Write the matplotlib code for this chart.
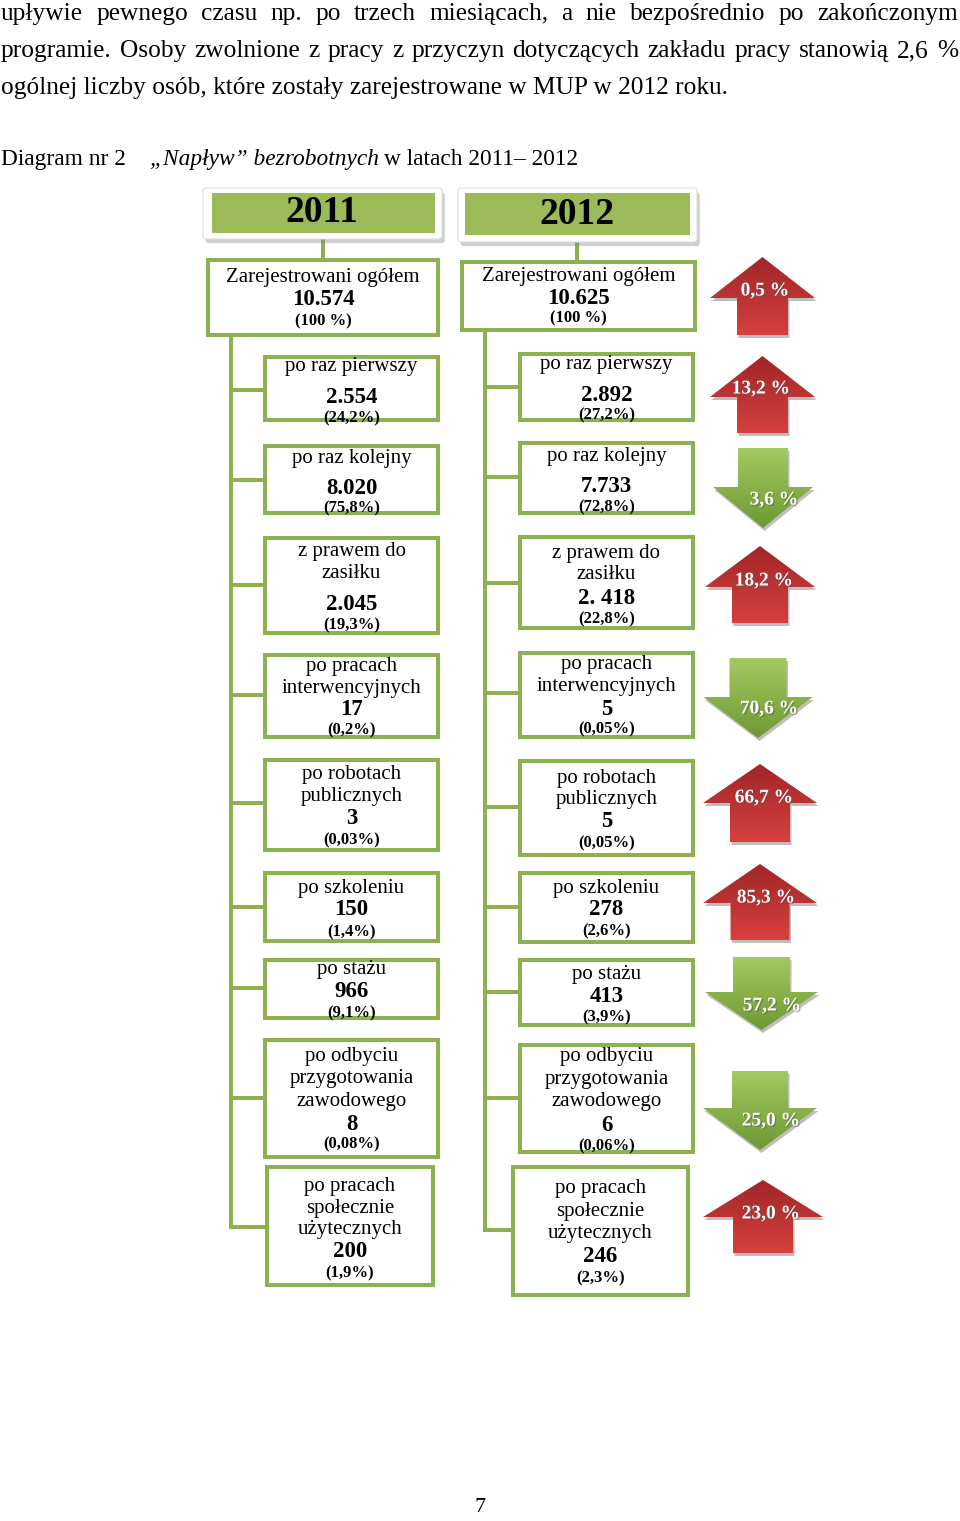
import matplotlib
matplotlib.use("Agg")
import matplotlib.pyplot as plt
import numpy as np
from matplotlib.patches import Rectangle, Polygon, FancyBboxPatch
from matplotlib.lines import Line2D
import matplotlib.patheffects as pe

plt.rcParams['font.family'] = ['Liberation Serif', 'DejaVu Serif']

# ---------------- data ----------------
paragraph_lines = [
    "upływie pewnego czasu np. po trzech miesiącach, a nie bezpośrednio po zakończonym",
    "programie. Osoby zwolnione z pracy z przyczyn dotyczących zakładu pracy stanowią 2,6 %",
    "ogólnej liczby osób, które zostały zarejestrowane w MUP w 2012 roku.",
]
caption_parts = ["Diagram nr 2", "„Napływ” bezrobotnych", "w latach 2011– 2012"]
years = ["2011", "2012"]
total_label = "Zarejestrowani ogółem"
totals = ["10.574", "10.625"]
total_share = "(100 %)"

categories = [
    ["po raz pierwszy"],
    ["po raz kolejny"],
    ["z prawem do", "zasiłku"],
    ["po pracach", "interwencyjnych"],
    ["po robotach", "publicznych"],
    ["po szkoleniu"],
    ["po stażu"],
    ["po odbyciu", "przygotowania", "zawodowego"],
    ["po pracach", "społecznie", "użytecznych"],
]
values_2011 = ["2.554", "8.020", "2.045", "17", "3", "150", "966", "8", "200"]
shares_2011 = ["(24,2%)", "(75,8%)", "(19,3%)", "(0,2%)", "(0,03%)", "(1,4%)",
               "(9,1%)", "(0,08%)", "(1,9%)"]
values_2012 = ["2.892", "7.733", "2. 418", "5", "5", "278", "413", "6", "246"]
shares_2012 = ["(27,2%)", "(72,8%)", "(22,8%)", "(0,05%)", "(0,05%)", "(2,6%)",
               "(3,9%)", "(0,06%)", "(2,3%)"]

change_labels = ["0,5 %", "13,2 %", "3,6 %", "18,2 %", "70,6 %", "66,7 %",
                 "85,3 %", "57,2 %", "25,0 %", "23,0 %"]
change_dirs = ["up", "up", "down", "up", "down", "up", "up", "down", "down", "up"]
page_number = "7"

# ---------------- layout (pixels) ----------------
W, H = 960, 1521
GREEN_EDGE = "#8DB052"
GREEN_FILL = "#9BBB59"
DY = 1.5  # small vertical text correction

header_frame = [(203, 188, 442, 239), (458, 188, 697, 242)]
header_green = [(212, 193, 435, 233), (465, 193, 690, 235)]
header_text_xy = [(322, 213), (577, 214)]
header_link = [(323, 239, 260), (577, 242, 262)]

total_box = [(208, 260, 438, 335), (462, 262, 695, 330)]
total_lines_y = [[276, 298, 320], [275, 297, 317]]

trunk_x = [231, 485]
box_x = [[(265, 438)] * 8 + [(267, 433)], [(520, 693)] * 8 + [(513, 688)]]
box_y = [
    [(357, 420), (446, 513), (538, 633), (655, 737), (760, 850), (873, 941),
     (960, 1018), (1040, 1157), (1167, 1285)],
    [(354, 420), (443, 513), (537, 628), (653, 737), (761, 855), (873, 942),
     (960, 1025), (1045, 1152), (1167, 1295)],
]
conn_y = [
    [390, 480, 585, 695, 803, 907, 988, 1098, 1227],
    [387, 477, 583, 693, 807, 907, 992, 1098, 1230],
]
lines_y = [
    [[365, 396, 417], [457, 487, 507], [550, 572, 603, 624], [665, 687, 708, 729],
     [773, 795, 817, 839], [887, 908, 931], [968, 990, 1012],
     [1055, 1077, 1100, 1123, 1143], [1185, 1207, 1228, 1250, 1272]],
    [[363, 394, 414], [455, 485, 506], [552, 573, 597, 618], [663, 685, 708, 728],
     [777, 798, 820, 842], [887, 908, 930], [973, 995, 1016],
     [1055, 1078, 1100, 1124, 1145], [1187, 1210, 1232, 1255, 1277]],
]

# arrows: centre x, head half width, shaft half width, flat end y, head base y, tip y
arrow_cx = [762.5, 762.5, 763, 760, 758, 760, 760, 761.5, 760, 763]
arrow_hw = [52.5, 52.5, 50, 55, 54.5, 57, 57, 56.5, 57, 60]
arrow_sw = [25.5, 25.5, 25, 28, 28.5, 30, 29.5, 28.5, 28, 30]
arrow_end = [335, 433, 448, 623, 658, 842, 940, 957, 1071, 1253]
arrow_hb = [298, 397, 487, 587, 697, 803, 903, 992, 1108, 1217]
arrow_tip = [257, 356, 528, 546, 738, 764, 864, 1030, 1150, 1180]
label_xy = [(765, 290), (761, 388), (774, 499), (764, 580), (769, 708),
            (764, 797), (766, 897), (772, 1005), (771, 1120), (771, 1213)]

# ---------------- figure ----------------
fig = plt.figure(figsize=(W / 100, H / 100), dpi=100)
ax = fig.add_axes([0, 0, 1, 1])
ax.set_xlim(0, W)
ax.set_ylim(H, 0)
ax.axis("off")
renderer = fig.canvas.get_renderer()

# paragraph: fit size to last line, justify first two
probe = ax.text(0, 0, paragraph_lines[2], fontsize=20)
wpx = probe.get_window_extent(renderer).width
probe.remove()
psize = 20 * 727 / wpx
baselines = [20, 57, 94]
for i, line in enumerate(paragraph_lines):
    if i < 2:
        words = line.split(" ")
        objs = [ax.text(0, baselines[i], w, fontsize=psize, va="baseline", ha="left")
                for w in words]
        widths = [o.get_window_extent(renderer).width for o in objs]
        gap = (958 - 1 - sum(widths)) / (len(words) - 1)
        x = 1
        for o, w in zip(objs, widths):
            o.set_x(x)
            x += w + gap
    else:
        ax.text(1, baselines[i], line, fontsize=psize, va="baseline", ha="left")

# caption
cap_size = psize * 0.92
t0 = ax.text(1, 165, caption_parts[0], fontsize=cap_size, va="baseline", ha="left")
t1 = ax.text(150, 165, caption_parts[1], fontsize=cap_size, style="italic",
             va="baseline", ha="left")
x_end = t1.get_window_extent(renderer).x1
ax.text(x_end + 5, 165, caption_parts[2], fontsize=cap_size, va="baseline", ha="left")

lw_box = 2.9

# headers
for k in range(2):
    x0, y0, x1, y1 = header_frame[k]
    fr = FancyBboxPatch((x0, y0), x1 - x0, y1 - y0,
                        boxstyle="round,pad=0,rounding_size=3",
                        facecolor="white", edgecolor="#dcdcdc", lw=0.8, zorder=2,
                        path_effects=[pe.withSimplePatchShadow(offset=(2, -3),
                                                               shadow_rgbFace="#777777",
                                                               alpha=0.35)])
    ax.add_patch(fr)
    gx0, gy0, gx1, gy1 = header_green[k]
    ax.add_patch(Rectangle((gx0, gy0), gx1 - gx0, gy1 - gy0, facecolor=GREEN_FILL,
                           edgecolor="none", zorder=3))
    tx, ty = header_text_xy[k]
    ax.text(tx, ty, years[k], fontsize=27, fontweight="bold", ha="center",
            va="center", zorder=4)
    lx, ly0, ly1 = header_link[k]
    ax.add_line(Line2D([lx, lx], [ly0, ly1], color=GREEN_EDGE, lw=lw_box, zorder=1))

# total boxes
for k in range(2):
    x0, y0, x1, y1 = total_box[k]
    ax.add_patch(Rectangle((x0, y0), x1 - x0, y1 - y0, facecolor="white",
                           edgecolor=GREEN_EDGE, lw=lw_box, zorder=3))
    cx = (x0 + x1) / 2
    ty = total_lines_y[k]
    ax.text(cx, ty[0] + DY, total_label, fontsize=15, ha="center", va="center", zorder=4)
    ax.text(cx, ty[1] + DY, totals[k], fontsize=16.5, fontweight="bold", ha="center",
            va="center", zorder=4)
    ax.text(cx, ty[2] + DY, total_share, fontsize=12, fontweight="bold", ha="center",
            va="center", zorder=4)

# trunks, branches, category boxes
vals = [values_2011, values_2012]
shs = [shares_2011, shares_2012]
for k in range(2):
    tx = trunk_x[k]
    top = total_box[k][3]
    ax.add_line(Line2D([tx, tx], [top, conn_y[k][-1]], color=GREEN_EDGE, lw=lw_box,
                       solid_capstyle="projecting", zorder=1))
    for i in range(len(categories)):
        bx0, bx1 = box_x[k][i]
        by0, by1 = box_y[k][i]
        ax.add_line(Line2D([tx, bx0], [conn_y[k][i], conn_y[k][i]], color=GREEN_EDGE,
                           lw=lw_box, solid_capstyle="projecting", zorder=1))
        ax.add_patch(Rectangle((bx0, by0), bx1 - bx0, by1 - by0, facecolor="white",
                               edgecolor=GREEN_EDGE, lw=lw_box, zorder=3))
        cx = (bx0 + bx1) / 2
        ys = lines_y[k][i]
        n = len(categories[i])
        for j, t in enumerate(categories[i]):
            ax.text(cx, ys[j] + DY, t, fontsize=15, ha="center", va="center", zorder=4)
        ax.text(cx, ys[n] + DY, vals[k][i], fontsize=16.5, fontweight="bold",
                ha="center", va="center", zorder=4)
        ax.text(cx, ys[n + 1] + DY, shs[k][i], fontsize=12, fontweight="bold",
                ha="center", va="center", zorder=4)

# arrows
RED_TOP, RED_BOT = np.array([0.63, 0.15, 0.16]), np.array([0.84, 0.25, 0.24])
GRN_TOP, GRN_BOT = np.array([0.64, 0.79, 0.38]), np.array([0.43, 0.60, 0.20])
for i, d in enumerate(change_dirs):
    cx, hw, sw = arrow_cx[i], arrow_hw[i], arrow_sw[i]
    e, hb, tp = arrow_end[i], arrow_hb[i], arrow_tip[i]
    if d == "up":
        verts = [(cx, tp), (cx + hw, hb), (cx + sw, hb), (cx + sw, e), (cx - sw, e),
                 (cx - sw, hb), (cx - hw, hb)]
        c_top, c_bot = RED_TOP, RED_BOT
    else:
        verts = [(cx - sw, e), (cx + sw, e), (cx + sw, hb), (cx + hw, hb), (cx, tp),
                 (cx - hw, hb), (cx - sw, hb)]
        c_top, c_bot = GRN_TOP, GRN_BOT
    ymin, ymax = min(e, tp), max(e, tp)
    shadow = Polygon([(x + 1.5, y + 3) for x, y in verts], closed=True,
                     facecolor="#8a8a8a", edgecolor="none", alpha=0.55, zorder=2)
    ax.add_patch(shadow)
    poly = Polygon(verts, closed=True, facecolor="none", edgecolor="none", zorder=3)
    ax.add_patch(poly)
    t = np.linspace(0, 1, 64)[:, None]
    grad = (c_top[None, :] * (1 - t) + c_bot[None, :] * t)[:, None, :]
    im = ax.imshow(grad, extent=(cx - hw, cx + hw, ymax, ymin), origin="upper",
                   aspect="auto", interpolation="bilinear", zorder=3)
    im.set_clip_path(poly)
    lx, ly = label_xy[i]
    ax.text(lx, ly + 1, change_labels[i], fontsize=14, fontweight="bold",
            color="white", ha="center", va="center", zorder=5,
            path_effects=[pe.withSimplePatchShadow(offset=(1, -1),
                                                   shadow_rgbFace="#555555",
                                                   alpha=0.45)])

ax.text(480, 1508, page_number, fontsize=16, ha="center", va="center")

ax.set_xlim(0, W)
ax.set_ylim(H, 0)
fig.savefig("out.png", dpi=100)
